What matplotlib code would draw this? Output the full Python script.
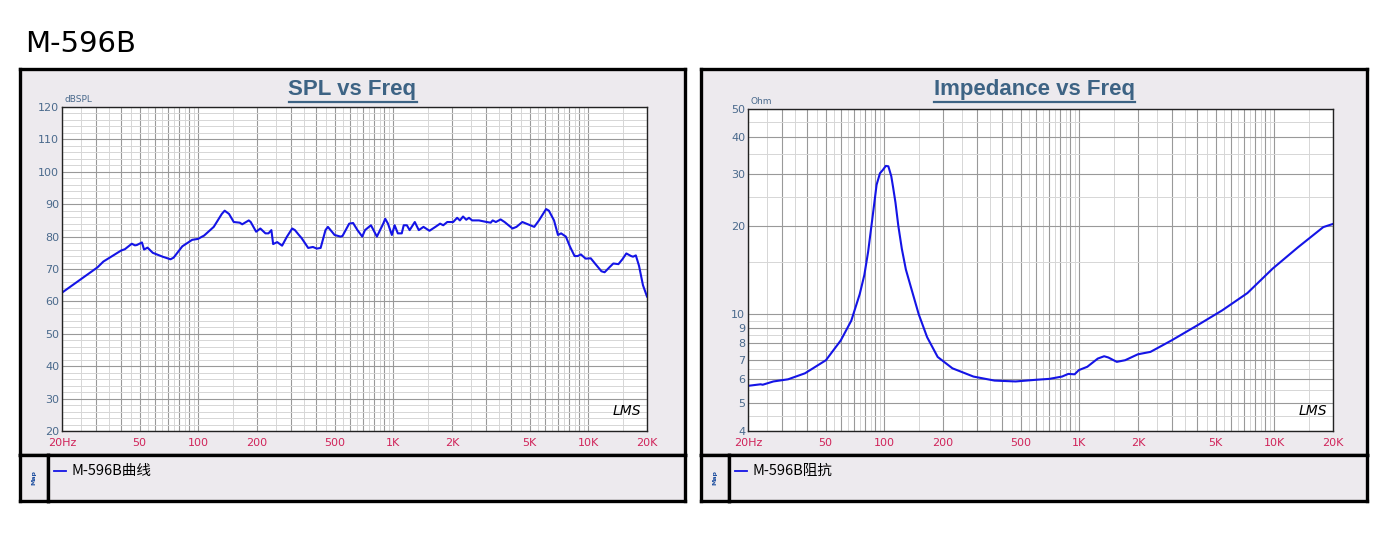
import matplotlib
matplotlib.use('Agg')
import matplotlib.pyplot as plt
from matplotlib.lines import Line2D

# SPL curve
spl_freq = [20, 30.4, 32.6, 40.2, 42, 45.6, 47.3, 48.4, 51.4, 52.7, 54.9, 58.4, 65.6, 72, 74.7,
            82.8, 93, 99.8, 104.6, 107, 120, 132, 136.5, 143.7, 152, 163, 168, 181.5, 185.7,
            198, 208, 221, 229, 237, 242, 254, 269, 285, 303, 313, 328, 339, 366, 387, 405,
            424, 449, 462, 500, 536, 549, 594, 622, 655, 693, 716, 768, 824, 888, 909, 939,
            983, 1016, 1055, 1105, 1131, 1174, 1213, 1289, 1351, 1428, 1533, 1644, 1738, 1804,
            1891, 2028, 2125, 2196, 2279, 2366, 2444, 2537, 2748, 3016, 3159, 3234, 3357, 3551,
            3721, 4086, 4281, 4590, 5041, 5282, 5585, 6076, 6278, 6671, 6989, 7254, 7673, 8041,
            8503, 8826, 9161, 9689, 10294, 10888, 11680, 12124, 12822, 13436, 14274, 14956,
            15670, 16572, 16966, 17530, 18199, 19068, 20000]
spl_db = [62.7, 70.5, 72.3, 75.7, 76.1, 77.8, 77.3, 77.4, 78.2, 76.0, 76.6, 75.0, 73.8, 73.0, 73.5,
          77.0, 79.0, 79.3, 80.0, 80.3, 83.0, 87.0, 88.0, 87.0, 84.5, 84.3, 83.8, 85.0, 84.5,
          81.5, 82.5, 81.0, 81.0, 82.0, 77.7, 78.3, 77.2, 80.0, 82.5, 82.0, 80.5, 79.5, 76.5, 76.8, 76.3,
          76.5, 82.0, 83.0, 80.5, 80.0, 80.2, 84.0, 84.2, 82.0, 80.0, 82.0, 83.5, 80.0, 84.0, 85.5, 84.0,
          80.5, 83.5, 81.0, 81.0, 83.5, 83.5, 82.0, 84.5, 82.0, 83.0, 81.8, 83.0, 84.0, 83.5,
          84.5, 84.5, 85.8, 85.0, 86.2, 85.2, 85.8, 85.0, 85.0, 84.5, 84.3, 85.0, 84.5, 85.3,
          84.5, 82.5, 83.0, 84.5, 83.5, 83.0, 85.0, 88.5, 88.0, 85.0, 80.5, 81.0, 80.0, 77.0,
          74.0, 74.0, 74.5, 73.2, 73.3, 71.5, 69.3, 69.0, 70.5, 71.7, 71.5, 73.0,
          74.8, 74.0, 73.8, 74.2, 71.0, 65.0, 61.5]

# impedance curve
imp_freq = [20, 23.2, 23.8, 27.0, 32.1, 39.2, 50.2, 59.8, 67.7, 74.8, 79, 82.6, 86.8, 91.3, 95, 98.3,
            101.8, 104.9, 108.6, 111, 114.1, 118, 123, 129, 135.8, 150.1, 165.8, 187.8, 223.6, 286.6,
            367.6, 471.5, 604.6, 702, 815, 878, 946, 995, 1099, 1244, 1341, 1409, 1557, 1719, 1996,
            2317, 2972, 4005, 5400, 7278, 9812, 13228, 17832, 20000]
imp_ohm = [5.70, 5.77, 5.75, 5.90, 6.0, 6.29, 6.97, 8.14, 9.5, 11.7, 13.6, 16.3, 21.1, 27.6, 30.2, 31.0,
           32.0, 31.9, 29.5, 27.0, 24.0, 20.0, 16.7, 14.2, 12.6, 10.0, 8.35, 7.15, 6.54, 6.13,
           5.94, 5.9, 5.98, 6.02, 6.13, 6.26, 6.24, 6.45, 6.62, 7.06, 7.19, 7.12, 6.88, 6.97, 7.3,
           7.44, 8.14, 9.14, 10.3, 11.8, 14.3, 16.9, 19.8, 20.3]

x_labels = {20: '20Hz', 50: '50', 100: '100', 200: '200', 500: '500',
            1000: '1K', 2000: '2K', 5000: '5K', 10000: '10K', 20000: '20K'}
spl_yticks = list(range(20, 121, 10))
imp_yticks = [4, 5, 6, 7, 8, 9, 10, 20, 30, 40, 50]
imp_yminor = [4.5, 5.5, 6.5, 7.5, 8.5, 9.5, 15, 25, 35, 45]

W, H = 1400, 533
BG = '#EDEAEE'
TITLE_C = '#3D6384'
YT_C = '#4A6A8C'
XT_C = '#D0245A'
LINE_C = '#1414E6'

fig = plt.figure(figsize=(W / 100, H / 100), dpi=100)


def rect(x0, y0, x1, y1):
    return [x0 / W, 1 - y1 / H, (x1 - x0) / W, (y1 - y0) / H]


def box(x0, y0, x1, y1):
    a = fig.add_axes(rect(x0, y0, x1, y1))
    a.set_facecolor(BG)
    a.set_xticks([])
    a.set_yticks([])
    for s in a.spines.values():
        s.set_linewidth(2.4)
        s.set_color('black')
    return a


# grid positions on the frequency axis
major_f = []
minor_f = []
for dec in [10, 100, 1000, 10000]:
    for m in range(1, 10):
        f = m * dec
        if 20 <= f <= 20000:
            major_f.append(f)
        if 20 <= f + dec / 2 <= 20000:
            minor_f.append(f + dec / 2)


def panel(x0, x1, ax_rect, title, unit, legend_txt):
    box(x0, 69, x1, 455)
    mp = box(x0, 455, x0 + 28, 501)
    mp.text(0.5, 0.5, 'Map', rotation=90, ha='center', va='center', fontsize=4.5,
            color='#2050A0', fontweight='bold', transform=mp.transAxes)
    lg = box(x0 + 28, 455, x1, 501)
    lg.add_line(Line2D([0.01, 0.028], [0.66, 0.66], color=LINE_C, lw=1.3, transform=lg.transAxes))
    lg.text(0.037, 0.66, legend_txt, ha='left', va='center', fontsize=10.5,
            family=['Noto Sans CJK SC', 'DejaVu Sans'], transform=lg.transAxes)

    ax = fig.add_axes(rect(*ax_rect))
    ax.set_xscale('log')
    ax.set_xlim(20, 20000)
    ax.set_xticks(major_f)
    ax.set_xticks(minor_f, minor=True)
    ax.set_xticklabels([x_labels.get(f, '') for f in major_f])
    ax.xaxis.set_minor_formatter(plt.NullFormatter())
    ax.tick_params(axis='x', which='both', length=0, pad=5, labelsize=8, labelcolor=XT_C)
    ax.tick_params(axis='y', which='both', length=0, pad=2, labelsize=8, labelcolor=YT_C)
    for s in ax.spines.values():
        s.set_linewidth(1.0)
        s.set_color('#222222')
    ax.text(0.005, 1.008, unit, transform=ax.transAxes, ha='left', va='bottom',
            fontsize=6.5, color=YT_C)
    ax.text(0.965, 0.04, 'LMS', transform=ax.transAxes, ha='center', va='bottom',
            fontsize=10, style='italic', family='DejaVu Sans', fontweight='light',
            color='black')

    cx = (x0 + x1) / 2
    t = fig.text(cx / W, 1 - 90 / H, title, ha='center', va='center', fontsize=16,
                 fontweight='bold', family='Liberation Sans', color=TITLE_C)
    return ax, t


ax1, t1 = panel(20, 685, (62, 107, 647, 431), 'SPL vs Freq', 'dBSPL', 'M-596B曲线')
ax1.set_ylim(20, 120)
ax1.set_yticks(spl_yticks)
ax1.set_yticks(list(range(20, 121, 2)), minor=True)
ax1.grid(which='major', axis='both', color='#999999', lw=0.8)
ax1.grid(which='minor', axis='both', color='#d6d6d6', lw=0.7)
ax1.plot(spl_freq, spl_db, color=LINE_C, lw=1.5)

ax2, t2 = panel(701, 1367, (748, 109, 1333, 431), 'Impedance vs Freq', 'Ohm', 'M-596B阻抗')
ax2.set_yscale('log')
ax2.set_ylim(4, 50)
ax2.set_yticks(imp_yticks)
ax2.set_yticklabels([str(v) for v in imp_yticks])
ax2.set_yticks(imp_yminor, minor=True)
ax2.yaxis.set_minor_formatter(plt.NullFormatter())
ax2.grid(which='major', axis='both', color='#999999', lw=0.8)
ax2.grid(which='minor', axis='both', color='#d6d6d6', lw=0.7)
ax2.plot(imp_freq, imp_ohm, color=LINE_C, lw=1.5)

fig.text(25 / W, 1 - 44 / H, 'M-596B', ha='left', va='center', fontsize=21,
         family='DejaVu Sans', color='black')

# underline the panel titles
fig.canvas.draw()
r = fig.canvas.get_renderer()
for t in (t1, t2):
    bb = t.get_window_extent(r)
    y = (bb.y0 - 1) / H
    fig.add_artist(Line2D([bb.x0 / W, bb.x1 / W], [y, y], color=TITLE_C, lw=1.6))

fig.savefig('out.png', dpi=100, facecolor='white')
